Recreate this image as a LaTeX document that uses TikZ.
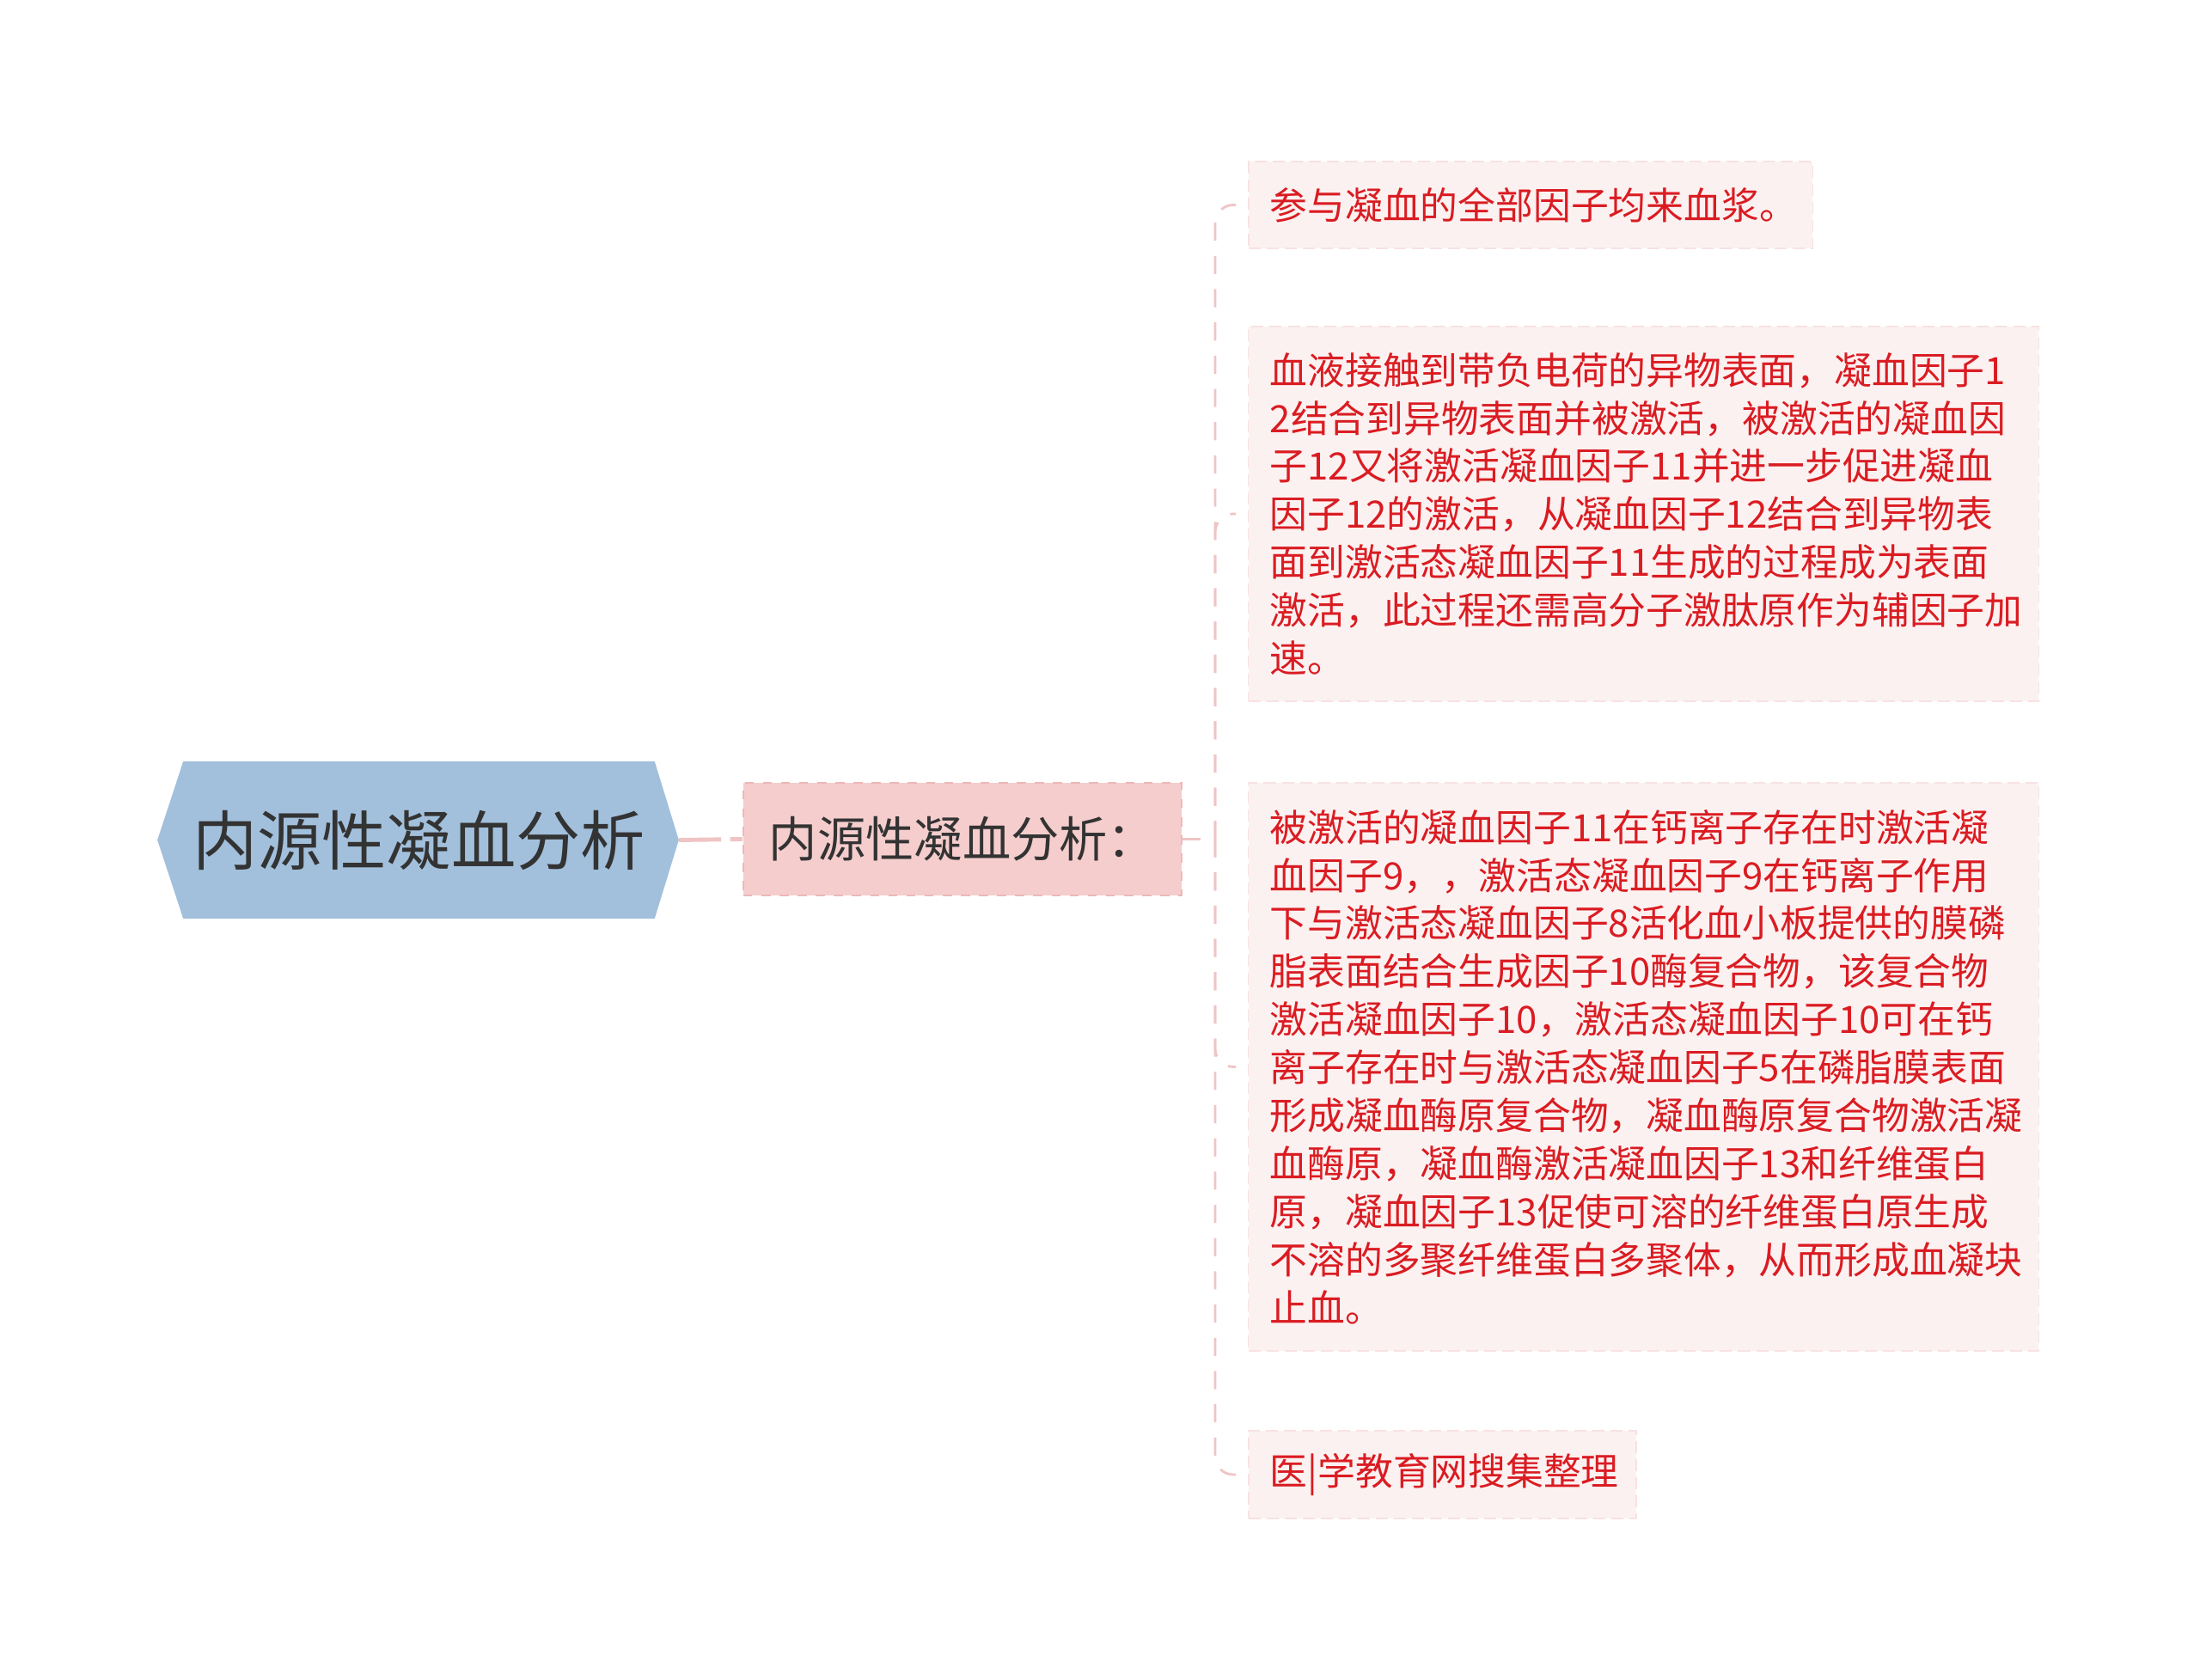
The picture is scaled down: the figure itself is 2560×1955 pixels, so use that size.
\documentclass[tikz,border=0pt]{standalone}
\usepackage{fontspec}
\setmainfont{Noto Sans CJK SC}
\usetikzlibrary{calc,backgrounds}
\definecolor{rootblue}{HTML}{A2C0DC}
\definecolor{subpink}{HTML}{F5CDCD}
\definecolor{subedge}{HTML}{EDB8B8}
\definecolor{leaffill}{HTML}{FCF1F1}
\definecolor{leafedge}{HTML}{F8E2E2}
\definecolor{leafred}{HTML}{DA1C22}
\definecolor{linkpink}{HTML}{F0C4C4}
\tikzset{
  rootbox/.style={inner sep=0pt, minimum width=5.47cm, minimum height=1.81cm,
    text=black!80, font=\fontsize{21.4}{25}\selectfont},
  subbox/.style={draw=subedge, dashed, fill=subpink, inner sep=0pt,
    minimum width=5.10cm, minimum height=1.31cm,
    text=black!80, font=\fontsize{16}{19}\selectfont},
  leafbox/.style={draw=leafedge, dash pattern=on 4pt off 2pt, fill=leaffill,
    text=leafred, align=left, inner xsep=0.25cm, inner ysep=0pt,
    font=\fontsize{12.45}{15.9}\selectfont},
  stem/.style={draw=linkpink, line width=1.4pt, dash pattern=on 14pt off 3pt},
  link/.style={draw=linkpink, line width=0.8pt, dash pattern=on 6pt off 5pt},
}
\begin{document}
\begin{tikzpicture}[x=0.01cm, y=-0.01cm]
  %%%%% START %%%%%
  \useasboundingbox (0,0) rectangle (2560,1955);

  % root hexagon
  \node[rootbox] (root) at (487.5,977.5) {内源性凝血分析};
  \coordinate (roottip) at ($(root.east)+(28,0)$);
  \begin{scope}[on background layer]
    \fill[rootblue] (root.north west) -- (root.north east) -- (roottip)
      -- (root.south east) -- (root.south west) -- ($(root.west)+(-30,0)$) -- cycle;
  \end{scope}

  \node[subbox] (sub) at (1120,976.5) {内源性凝血分析：};
  \draw[stem] (roottip) -- (sub.west);

  % leaves
  \node[leafbox, minimum width=6.56cm, minimum height=1.01cm, text width=6.06cm] (leafa)
    at (1781,238.5) {参与凝血的全部因子均来血浆。};
  \node[leafbox, minimum width=9.19cm, minimum height=4.36cm, text width=8.69cm] (leafb)
    at (1912.5,598) {血液接触到带负电荷的异物表面，凝血因子1\\
2结合到异物表面并被激活，被激活的凝血因\\
子12又将激活凝血因子11并进一步促进凝血\\
因子12的激活，从凝血因子12结合到异物表\\
面到激活态凝血因子11生成的过程成为表面\\
激活，此过程还需高分子激肽原作为辅因子加\\
速。};
  \node[leafbox, minimum width=9.19cm, minimum height=6.61cm, text width=8.69cm] (leafc)
    at (1912.5,1241.5) {被激活的凝血因子11在钙离子存在时激活凝\\
血因子9，，激活态凝血因子9在钙离子作用\\
下与激活态凝血因子8活化血小板提供的膜磷\\
脂表面结合生成因子10酶复合物，该复合物\\
激活凝血因子10，激活态凝血因子10可在钙\\
离子存在时与激活态凝血因子5在磷脂膜表面\\
形成凝血酶原复合物，凝血酶原复合物激活凝\\
血酶原，凝血酶激活凝血因子13和纤维蛋白\\
原，凝血因子13促使可溶的纤维蛋白原生成\\
不溶的多聚纤维蛋白多聚体，从而形成血凝块\\
止血。};
  \node[leafbox, minimum width=4.51cm, minimum height=1.02cm, text width=4.01cm] (leafd)
    at (1678.5,1716) {医|学教育网搜集整理};

  % fork
  \coordinate (fork) at (1414,976.5);
  \draw[link] (sub.east) -- (fork);
  \foreach \n in {leafa,leafb,leafc,leafd}
    \draw[link, rounded corners=6pt, shorten >=4pt] (fork) |- (\n.west);
  %%%%% END %%%%%
\end{tikzpicture}
\end{document}
